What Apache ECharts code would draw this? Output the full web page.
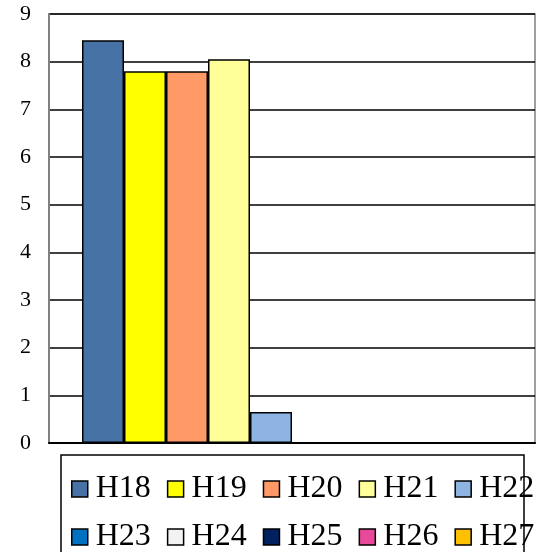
<!DOCTYPE html>
<html><head><meta charset="utf-8">
<script src="https://cdn.jsdelivr.net/npm/echarts@6/dist/echarts.min.js"></script>
<style>html,body{margin:0;padding:0;background:#fff}#c{width:536px;height:552px}</style>
</head><body><div id="c"></div>
<script>
var categories = [''];
var seriesNames = ['H18','H19','H20','H21','H22','H23','H24','H25','H26','H27'];
var values = [8.45, 7.8, 7.8, 8.05, 0.65, 0, 0, 0, 0, 0];
var colors = ['#4672A6','#FFFF00','#FF9966','#FFFF99','#8DB4E2','#0070C0','#F2F2F2','#002060','#E8499A','#FFC000'];
var yTicks = [0,1,2,3,4,5,6,7,8,9];

var font = 'Liberation Serif';
var chart = echarts.init(document.getElementById('c'), null, {renderer:'canvas'});
var series = seriesNames.map(function(n,i){
  return {
    name:n, type:'bar', data:[values[i]], barWidth:42, barGap:'0%',
    itemStyle:{color:colors[i], borderColor:'#000', borderWidth:1.5},
    animation:false
  };
});
function legend(names, top){
  return {
    data:names.map(function(n){return {name:n, icon:'rect'};}),
    left:66, top:top, width:900, orient:'horizontal',
    itemWidth:16, itemHeight:16, itemGap:16,
    itemStyle:{borderColor:'#000', borderWidth:1.5},
    textStyle:{fontFamily:font, fontSize:32, color:'#000', padding:[0,0,0,3]},
    selectedMode:false
  };
}
chart.setOption({
  animation:false,
  color:colors,
  grid:{left:49, right:1, top:14, bottom:109, show:true, borderColor:'#808080', borderWidth:1.5, containLabel:false},
  xAxis:{type:'category', data:categories, axisTick:{show:false}, axisLabel:{show:false},
    axisLine:{lineStyle:{color:'#000', width:2}}, splitLine:{show:false}},
  yAxis:{type:'value', min:yTicks[0], max:yTicks[yTicks.length-1], interval:1,
    axisLine:{show:true, lineStyle:{color:'#808080', width:2}}, axisTick:{show:false},
    axisLabel:{fontFamily:font, fontSize:22, color:'#000', margin:18, verticalAlign:'middle', padding:[6,0,0,0]},
    splitLine:{lineStyle:{color:'#000', width:1.5}}},
  legend:[legend(seriesNames.slice(0,5), 468), legend(seriesNames.slice(5), 516)],
  graphic:[{type:'rect', shape:{x:61, y:455, width:463, height:130}, style:{fill:'none', stroke:'#000', lineWidth:1.5}, z:-1}],
  series:series
});
</script></body></html>
